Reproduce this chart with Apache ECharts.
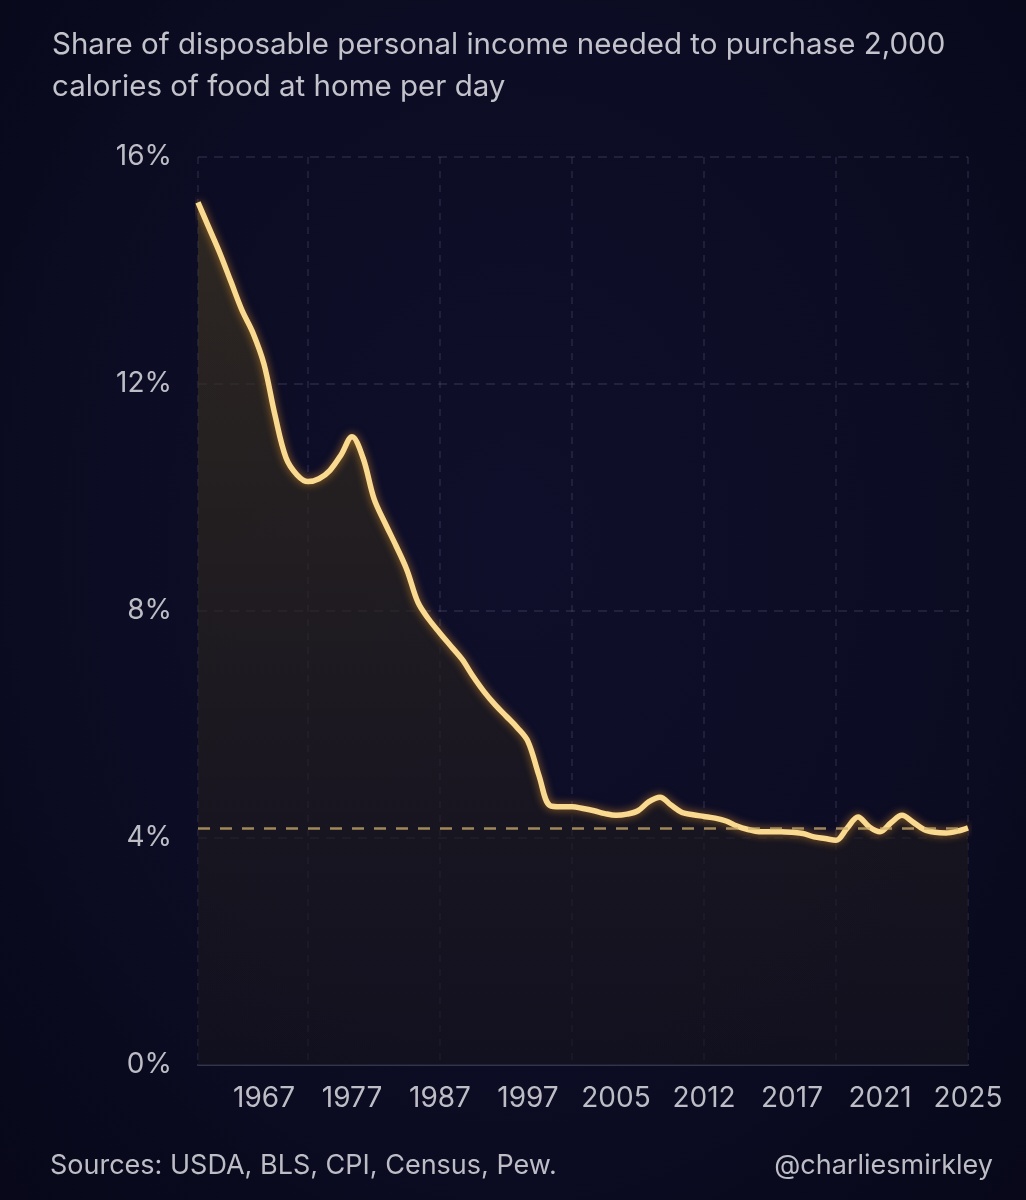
<!DOCTYPE html>
<html>
<head>
<meta charset="utf-8">
<script src="https://cdn.jsdelivr.net/npm/echarts@6/dist/echarts.min.js"></script>
<style>
  html, body { margin: 0; padding: 0; }
  body { background: #0a0a1e; }
  #chart {
    width: 1026px; height: 1200px;
    background: radial-gradient(ellipse at 50% 45%, #0f0f2b 0%, #0c0c24 55%, #08081a 100%);
  }
</style>
</head>
<body>
<div id="chart"></div>
<script>
// Title / footer text
const titleText = 'Share of disposable personal income needed to purchase 2,000\ncalories of food at home per day';
const sourceText = 'Sources: USDA, BLS, CPI, Census, Pew.';
const creditText = '@charliesmirkley';

// X tick labels (evenly spaced on the category axis)
const tickLabels = ['1967', '1977', '1987', '1997', '2005', '2012', '2017', '2021', '2025'];

// Y tick values (%)
const yTicks = [0, 4, 8, 12, 16];

// Share of disposable income (%) sampled along the axis
const shareValues = [
  15.2, 14.75, 14.3, 13.8, 13.3, 12.9, 12.35, 11.45, 10.7, 10.4,
  10.28, 10.33, 10.48, 10.75, 11.07, 10.7, 9.98, 9.55, 9.15, 8.72,
  8.15, 7.85, 7.61, 7.38, 7.15, 6.85, 6.58, 6.35, 6.15, 5.95,
  5.7, 5.1, 4.57, 4.55, 4.55, 4.52, 4.48, 4.43, 4.40, 4.42,
  4.48, 4.64, 4.72, 4.58, 4.45, 4.41, 4.38, 4.35, 4.30, 4.21,
  4.15, 4.11, 4.11, 4.11, 4.10, 4.08, 4.02, 3.99, 3.96, 4.17,
  4.37, 4.2, 4.11, 4.27, 4.40, 4.28, 4.15, 4.1, 4.09, 4.12,
  4.18
];

// Category slots (one per sample)
const categories = shareValues.map((_, i) => 'pt' + i);

// layout of the category axis (which slots carry labels / split lines)
const LABEL_START = 6, LABEL_STEP = 8;
const SPLIT_START = 10, SPLIT_STEP = 12;

const chart = echarts.init(document.getElementById('chart'), null, { renderer: 'canvas' });
const FONT = 'Inter, "Noto Sans", sans-serif';
const currentValue = shareValues[shareValues.length - 1];

chart.setOption({
  backgroundColor: 'transparent',
  animation: false,
  title: {
    text: titleText,
    left: 47,
    top: 19,
    textStyle: {
      color: '#c3c3cc',
      fontFamily: FONT,
      fontSize: 29.5,
      fontWeight: 'normal',
      lineHeight: 42
    }
  },
  grid: { left: 198, right: 58, top: 157, bottom: 135, containLabel: false },
  xAxis: {
    type: 'category',
    data: categories,
    boundaryGap: false,
    axisLine: { show: true, lineStyle: { color: '#34344c', width: 2 } },
    axisTick: { show: false },
    axisLabel: {
      interval: (i) => i >= LABEL_START && (i - LABEL_START) % LABEL_STEP === 0,
      formatter: (v, i) => {
        const k = (i - LABEL_START) / LABEL_STEP;
        return Number.isInteger(k) && k >= 0 ? tickLabels[k] : '';
      },
      color: '#bdbdc6',
      fontFamily: FONT,
      fontSize: 28,
      margin: 20
    },
    splitLine: {
      show: true,
      interval: (i) => i === 0 || (i >= SPLIT_START && (i - SPLIT_START) % SPLIT_STEP === 0),
      lineStyle: { color: 'rgba(110,110,145,0.25)', type: [7, 7], width: 1.5 }
    }
  },
  yAxis: {
    type: 'value',
    min: yTicks[0],
    max: yTicks[yTicks.length - 1],
    interval: yTicks[1] - yTicks[0],
    axisLine: { show: false },
    axisTick: { show: false },
    axisLabel: {
      formatter: '{value}%',
      color: '#bdbdc6',
      fontFamily: FONT,
      fontSize: 28,
      margin: 26
    },
    splitLine: {
      show: true,
      lineStyle: { color: 'rgba(110,110,145,0.28)', type: [9, 7], width: 1.5 }
    }
  },
  series: [{
    type: 'line',
    data: shareValues,
    smooth: 0.35,
    symbol: 'none',
    lineStyle: {
      color: '#f9da90',
      width: 5.5,
      shadowColor: 'rgba(255,165,40,0.6)',
      shadowBlur: 8
    },
    areaStyle: {
      color: {
        type: 'linear', x: 0, y: 0, x2: 0, y2: 1,
        colorStops: [
          { offset: 0, color: 'rgba(64,55,35,0.97)' },
          { offset: 0.35, color: 'rgba(46,40,30,0.95)' },
          { offset: 0.7, color: 'rgba(31,27,30,0.93)' },
          { offset: 1, color: 'rgba(22,20,30,0.92)' }
        ]
      }
    },
    markLine: {
      silent: true,
      symbol: ['none', 'none'],
      label: { show: false },
      lineStyle: { color: 'rgba(205,175,110,0.75)', type: [12, 10], width: 2.5 },
      data: [{ yAxis: currentValue }]
    },
    z: 3
  }],
  graphic: [
    {
      type: 'text', left: 50, top: 1152,
      style: { text: sourceText, fill: '#bdbdc6', font: '27px ' + FONT }
    },
    {
      type: 'text', right: 33, top: 1152,
      style: { text: creditText, fill: '#bdbdc6', font: '27px ' + FONT }
    }
  ]
});
</script>
</body>
</html>
